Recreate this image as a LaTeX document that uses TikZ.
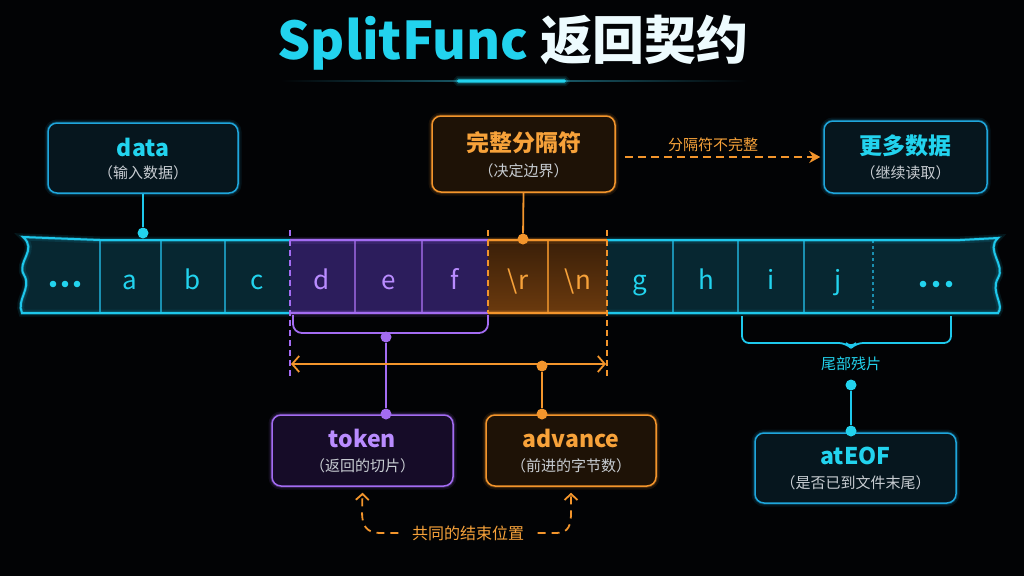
\documentclass[tikz,border=0pt]{standalone}
\usepackage{fontspec}
\setmainfont{Noto Sans CJK SC}
\usetikzlibrary{arrows.meta,calc}
\definecolor{bgc}{HTML}{020305}
\definecolor{cyt}{HTML}{22D3EE}
\definecolor{cyline}{HTML}{1EC8EC}
\definecolor{cyb}{HTML}{1FA6DC}
\definecolor{cybfill}{HTML}{06161E}
\definecolor{cydiv}{HTML}{1A8FB0}
\definecolor{stripc}{HTML}{072731}
\definecolor{pur}{HTML}{A36CF2}
\definecolor{purt}{HTML}{B98CFF}
\definecolor{purfill}{HTML}{160C28}
\definecolor{purstrip}{HTML}{2C1D5C}
\definecolor{org}{HTML}{F3952C}
\definecolor{orgt}{HTML}{F7A23A}
\definecolor{orgfill}{HTML}{1E1206}
\definecolor{orgtop}{HTML}{3A1F08}
\definecolor{orgbot}{HTML}{6B3A0E}
\definecolor{greyt}{HTML}{C8CDD2}
\definecolor{ul}{HTML}{1E6E80}
\tikzset{
  glow/.style={preaction={draw=#1,line width=7pt,draw opacity=0.10,fill=none},
               preaction={draw=#1,line width=3.5pt,draw opacity=0.22,fill=none}},
  mybox/.style={draw=#1, line width=1.5pt, rounded corners=9pt, glow=#1},
  mydot/.style={circle, fill=#1, inner sep=0pt, minimum size=11pt},
  ttl/.style={font=\bfseries\fontsize{23}{25}\selectfont, text=#1},
  sub/.style={font=\fontsize{15}{17}\selectfont, text=greyt},
  cell/.style={font=\fontsize{26}{28}\selectfont, text=#1, anchor=base},
  lbl/.style={font=\fontsize{15}{17}\selectfont, text=#1},
  sborder/.style={draw=#1, line width=2pt, glow=#1},
  conn/.style={draw=#1, line width=1.8pt},
  vdash/.style={draw=#1, line width=1.4pt, dash pattern=on 6pt off 4pt},
}
\begin{document}
\begin{tikzpicture}[x=1pt,y=-1pt]
\fill[bgc] (0,0) rectangle (1024,576);
\useasboundingbox (0,0) rectangle (1024,576);

% title
\node[font=\bfseries\fontsize{52}{56}\selectfont] (title) at (513,43) {\textcolor{cyt}{SplitFunc} \textcolor{white!92!cyt}{返回契约}};
\shade[left color=bgc, right color=bgc, middle color=ul] (281,80.3) rectangle (747,81.7);
\fill[cyt, rounded corners=1.5pt, glow=cyt] (457,79.3) rectangle (566,82.7);

% strip fill
\fill[stripc] (23,237) -- (100,240) -- (960,240) -- (998,238) .. controls (985,250) and (1006,265) .. (998,278) .. controls (990,292) and (1005,305) .. (998,313) -- (22,313) .. controls (16,300) and (32,288) .. (24,275) .. controls (16,262) and (38,250) .. (23,237) -- cycle;
\fill[purstrip] (290,240) rectangle (488,313);
\shade[top color=orgtop, bottom color=orgbot] (488,240) rectangle (607,313);

% dividers
\foreach \x in {100,161,225,673,738,804} \draw[cydiv, line width=1.2pt] (\x,240) -- (\x,313);
\draw[cydiv, line width=1.2pt, dashed] (873,240) -- (873,313);
\foreach \x in {355,422} \draw[pur!80!black, line width=1.2pt] (\x,240) -- (\x,313);
\draw[org!85!black, line width=1.2pt] (548,240) -- (548,313);

% strip borders
\draw[sborder=cyline] (290,240) -- (100,240) -- (23,237) .. controls (38,250) and (16,262) .. (24,275) .. controls (32,288) and (16,300) .. (22,313) -- (290,313);
\draw[sborder=cyline] (607,240) -- (960,240) -- (998,238) .. controls (985,250) and (1006,265) .. (998,278) .. controls (990,292) and (1005,305) .. (998,313) -- (607,313);
\draw[sborder=pur] (290,240) -- (488,240) (290,313) -- (488,313);
\draw[sborder=org] (488,240) -- (607,240) (488,313) -- (607,313);

% dashed verticals
\draw[vdash=pur] (290,230) -- (290,378);
\draw[vdash=org] (488,230) -- (488,313);
\draw[vdash=org] (607,230) -- (607,378);
\draw[vdash=cyline] (742,316) -- (742,330);
\draw[vdash=cyline] (951,316) -- (951,330);

% cell texts
\foreach \x in {53,65,77,923,936,949} \fill[cyt] (\x,284) circle (3.3pt);
\node[cell=cyt] (ca) at (130,289) {a};
\node[cell=cyt] (cb) at (193,289) {b};
\node[cell=cyt] (cc) at (257,289) {c};
\node[cell=purt] (cd) at (322,289) {d};
\node[cell=purt] (ce) at (389,289) {e};
\node[cell=purt] (cf) at (455,289) {f};
\node[cell=orgt] (cr) at (518,289) {\textbackslash r};
\node[cell=orgt] (cn) at (578,289) {\textbackslash n};
\node[cell=cyt] (cg) at (640,289) {g};
\node[cell=cyt] (ch) at (706,289) {h};
\node[cell=cyt] (ci) at (771,289) {i};
\node[cell=cyt] (cj) at (838,289) {j};

% boxes
\node[mybox=cyb, fill=cybfill, minimum width=190pt, minimum height=70pt] (data) at (143,158) {};
\node[ttl=cyt] (dataT) at (143,147) {data};
\node[sub] (dataS) at (143,173) {（输入数据）};

\node[mybox=org, fill=orgfill, minimum width=183pt, minimum height=76pt] (delim) at (523.5,154) {};
\node[ttl=orgt] (delimT) at (523.5,143) {完整分隔符};
\node[sub] (delimS) at (523.5,171) {（决定边界）};

\node[mybox=cyb, fill=cybfill, minimum width=163pt, minimum height=72pt] (more) at (905.5,157) {};
\node[ttl=cyt] (moreT) at (905.5,146) {更多数据};
\node[sub] (moreS) at (905.5,173) {（继续读取）};

\node[mybox=pur, fill=purfill, minimum width=181pt, minimum height=71pt] (token) at (362.5,450.5) {};
\node[ttl=purt] (tokenT) at (362.5,438) {token};
\node[sub] (tokenS) at (362.5,466) {（返回的切片）};

\node[mybox=org, fill=orgfill, minimum width=170pt, minimum height=71pt] (adv) at (571,450.5) {};
\node[ttl=orgt] (advT) at (571,438) {advance};
\node[sub] (advS) at (571,466) {（前进的字节数）};

\node[mybox=cyb, fill=cybfill, minimum width=201pt, minimum height=70pt] (eof) at (855.5,468) {};
\node[ttl=cyt] (eofT) at (855.5,456) {atEOF};
\node[sub] (eofS) at (855.5,483) {（是否已到文件末尾）};

% data connector
\node[mydot=cyt] (dd) at (143,233) {};
\draw[conn=cyline] (data.south) -- (dd);

% delimiter connector
\node[mydot=org] (od) at (523,239) {};
\draw[conn=org] (delim.south) -- (od);

% incomplete delimiter arrow
\node[lbl=orgt] (inc) at (713,145) {分隔符不完整};
\draw[draw=org, line width=1.8pt, dash pattern=on 8pt off 5pt, -{Stealth[length=11pt,width=12pt]}, shorten <=9pt, shorten >=3pt] (delim.east |- more.west) -- (more.west);

% token bracket
\draw[conn=pur, rounded corners=9pt] (293,315) -- (293,333) -- (488,333) -- (488,315);
\node[mydot=pur] (pd1) at (386,337) {};
\node[mydot=pur] (pd2) at (386,414) {};
\draw[conn=pur] (pd1) -- (pd2);

% advance arrow
\coordinate (dl) at (291,364);
\coordinate (dr) at (606,364);
\draw[conn=org, {Straight Barb[length=7pt,width=16pt]}-{Straight Barb[length=7pt,width=16pt]}] (dl) -- (dr);
\node[mydot=org] (ad1) at (542,366) {};
\node[mydot=org] (ad2) at (542,414) {};
\draw[conn=org] (ad1) -- (ad2);

% tail bracket
\draw[conn=cyline, rounded corners=7pt] (742,318) -- (742,343) -- (846,343) -- (851,348) -- (856,343) -- (951,343) -- (951,318);
\node[lbl=cyt] (tail) at (851,364) {尾部残片};
\node[mydot=cyt] (ed1) at (851,385) {};
\node[mydot=cyt] (ed2) at (851,431) {};
\draw[conn=cyline] (ed1) -- (ed2);

% common end position
\node[font=\fontsize{16}{18}\selectfont, text=orgt] (common) at (468,533) {共同的结束位置};
\draw[draw=org, line width=1.8pt, dash pattern=on 8pt off 6pt, -{Straight Barb[length=6pt,width=13pt]}, shorten <=10pt] (common.west) -- (380,533) .. controls (366,533) and (362,525) .. (362,512) -- ($(token.south)+(0,6)$);
\draw[draw=org, line width=1.8pt, dash pattern=on 8pt off 6pt, -{Straight Barb[length=6pt,width=13pt]}, shorten <=10pt] (common.east) -- (556,533) .. controls (569,533) and (571,525) .. (571,512) -- ($(adv.south)+(0,6)$);
\end{tikzpicture}
\end{document}
